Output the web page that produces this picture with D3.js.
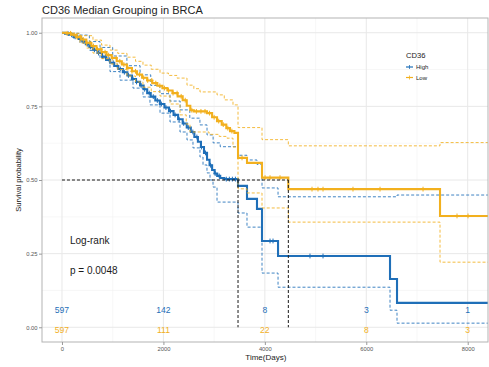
<!DOCTYPE html>
<html>
<head>
<meta charset="utf-8">
<script src="https://cdn.jsdelivr.net/npm/d3@7"></script>
<style>
  html, body { margin: 0; padding: 0; background: #ffffff; }
  svg { display: block; font-family: "Liberation Sans", Arial, Helvetica, sans-serif; }
</style>
</head>
<body>
<svg id="chart" width="489" height="367"></svg>
<script>
// ---- Kaplan-Meier estimates: [time (days), survival] step points ----
const highSurv = [
  [0,1.000],[60,0.997],[140,0.993],[230,0.986],[330,0.979],[400,0.970],[470,0.961],[540,0.952],
  [610,0.942],[700,0.931],[790,0.919],[870,0.908],[950,0.898],[1030,0.887],[1110,0.877],[1200,0.866],
  [1290,0.855],[1380,0.843],[1460,0.833],[1540,0.821],[1610,0.808],[1680,0.795],[1750,0.783],[1840,0.770],
  [1930,0.758],[2020,0.746],[2110,0.734],[2200,0.721],[2290,0.706],[2380,0.692],[2460,0.678],[2540,0.663],
  [2610,0.646],[2680,0.630],[2740,0.612],[2800,0.592],[2860,0.569],[2910,0.550],[2960,0.534],[3010,0.522],
  [3060,0.514],[3120,0.507],[3200,0.503],[3471,0.480],[3648,0.436],[3845,0.402],[3944,0.293],[4260,0.242],
  [6468,0.164],[6606,0.083]
];
const highUpper = [
  [0,1.000],[140,0.998],[330,0.992],[540,0.970],[750,0.950],[1000,0.921],[1280,0.888],[1540,0.857],
  [1750,0.821],[1930,0.793],[2130,0.768],[2330,0.738],[2520,0.710],[2720,0.687],[2860,0.653],[2980,0.626],
  [3120,0.613],[3471,0.584],[3648,0.568],[3845,0.553],[3944,0.473],[4260,0.443],[6606,0.449]
];
const highLower = [
  [0,1.000],[100,0.996],[220,0.982],[355,0.966],[550,0.940],[749,0.914],[947,0.868],[1144,0.839],
  [1400,0.812],[1597,0.782],[1735,0.755],[1933,0.727],[2130,0.697],[2327,0.663],[2465,0.636],[2583,0.609],
  [2721,0.578],[2781,0.551],[2859,0.524],[2919,0.500],[2978,0.476],[3057,0.425],[3471,0.388],[3648,0.340],
  [3944,0.184],[4260,0.136],[6468,0.058],[6606,0.014]
];
const lowSurv = [
  [0,1.000],[80,0.998],[180,0.993],[280,0.985],[380,0.977],[480,0.966],[580,0.955],[680,0.944],
  [780,0.934],[880,0.924],[980,0.914],[1080,0.903],[1180,0.892],[1280,0.880],[1380,0.869],[1480,0.858],
  [1580,0.847],[1680,0.838],[1780,0.829],[1880,0.820],[1980,0.812],[2080,0.804],[2180,0.795],[2280,0.784],
  [2380,0.771],[2460,0.752],[2530,0.737],[2600,0.733],[2860,0.727],[2960,0.713],[3057,0.700],[3150,0.688],
  [3240,0.676],[3313,0.666],[3400,0.660],[3471,0.575],[3648,0.558],[3944,0.508],[4463,0.469],[7454,0.378]
];
const lowUpper = [
  [0,1.000],[150,0.998],[350,0.990],[611,0.975],[780,0.958],[947,0.941],[1100,0.930],[1282,0.917],
  [1450,0.903],[1597,0.890],[1760,0.876],[1933,0.863],[2100,0.855],[2268,0.846],[2465,0.822],[2600,0.810],
  [2721,0.799],[3057,0.789],[3200,0.772],[3372,0.755],[3471,0.678],[3944,0.637],[4463,0.616],[7454,0.627]
];
const lowLower = [
  [0,1.000],[120,0.993],[355,0.965],[480,0.948],[611,0.931],[780,0.912],[947,0.894],[1100,0.875],
  [1282,0.853],[1450,0.833],[1597,0.815],[1760,0.800],[1933,0.785],[2130,0.758],[2327,0.721],[2450,0.690],
  [2524,0.663],[2900,0.655],[3100,0.648],[3254,0.642],[3372,0.612],[3471,0.470],[3648,0.456],[3944,0.405],
  [4463,0.357],[7454,0.221]
];

// ---- censoring times (days) ----
const highCensor = [120,190,260,310,370,430,500,560,640,720,800,860,930,1010,1090,1150,1230,1310,1400,
  1470,1560,1630,1720,1800,1880,1960,2050,2140,2230,2310,2400,2490,2580,2660,2750,2830,2930,3020,3100,
  3240,3300,3360,3420,4102,4161,4890,5147];
const lowCensor = [100,170,240,300,360,420,490,550,620,700,770,850,920,1000,1070,1140,1220,1300,1380,
  1450,1530,1610,1690,1770,1850,1930,2020,2100,2190,2270,2350,2430,2560,2650,2740,2820,2910,3000,3090,
  3180,3270,3350,3550,4004,4102,4299,4930,5048,5147,5738,6271,7119,7789,8006];

// ---- median survival times ----
const medianTimes = [3471, 4463];
const medianLevel = 0.5;

// ---- numbers at risk ----
const riskTimes = [0, 2000, 4000, 6000, 8000];
const highRisk = [597, 142, 8, 3, 1];
const lowRisk = [597, 111, 22, 8, 3];

// ---- axes ----
const xTicks = [0, 2000, 4000, 6000, 8000];
const yTicks = [0, 0.25, 0.5, 0.75, 1];
const yTickLabels = ["0.00", "0.25", "0.50", "0.75", "1.00"];
const groupNames = ["High", "Low"];

const colors = { High: "#1f6fb8", Low: "#f2b01e" };

const svg = d3.select("#chart");
const panel = { left: 42, right: 488, top: 18, bottom: 342 };

const x = d3.scaleLinear().domain([-394, 8400]).range([panel.left, panel.right]);
const y = d3.scaleLinear().domain([-0.05, 1.05]).range([panel.bottom, panel.top]);

svg.append("rect").attr("width", 489).attr("height", 367).attr("fill", "#ffffff");

svg.append("defs").append("clipPath").attr("id", "panelClip")
  .append("rect")
  .attr("x", panel.left).attr("y", panel.top)
  .attr("width", panel.right - panel.left).attr("height", panel.bottom - panel.top);

// grid
const grid = svg.append("g");
const xMinor = d3.range(1000, 8400, 2000);
const yMinor = [0.125, 0.375, 0.625, 0.875];
grid.selectAll(".xminor").data(xMinor).join("line")
  .attr("x1", d => x(d)).attr("x2", d => x(d)).attr("y1", panel.top).attr("y2", panel.bottom)
  .attr("stroke", "#f2f2f2").attr("stroke-width", 0.6);
grid.selectAll(".yminor").data(yMinor).join("line")
  .attr("x1", panel.left).attr("x2", panel.right).attr("y1", d => y(d)).attr("y2", d => y(d))
  .attr("stroke", "#f2f2f2").attr("stroke-width", 0.6);
grid.selectAll(".xmajor").data(xTicks).join("line")
  .attr("x1", d => x(d)).attr("x2", d => x(d)).attr("y1", panel.top).attr("y2", panel.bottom)
  .attr("stroke", "#e8e8e8").attr("stroke-width", 1);
grid.selectAll(".ymajor").data(yTicks).join("line")
  .attr("x1", panel.left).attr("x2", panel.right).attr("y1", d => y(d)).attr("y2", d => y(d))
  .attr("stroke", "#e8e8e8").attr("stroke-width", 1);

const plot = svg.append("g").attr("clip-path", "url(#panelClip)");

const stepLine = d3.line()
  .x(d => x(d[0])).y(d => y(d[1]))
  .curve(d3.curveStepAfter);

function extend(points) {
  return points.concat([[x.domain()[1], points[points.length - 1][1]]]);
}

function drawGroup(name, surv, upper, lower, censor) {
  const c = colors[name];
  [upper, lower].forEach(ci => {
    plot.append("path").datum(extend(ci))
      .attr("d", stepLine).attr("fill", "none")
      .attr("stroke", c).attr("stroke-width", 1)
      .attr("stroke-dasharray", "3,2").attr("opacity", 0.85);
  });
  plot.append("path").datum(extend(surv))
    .attr("d", stepLine).attr("fill", "none")
    .attr("stroke", c).attr("stroke-width", 2.1);
  // censor marks
  const valueAt = t => {
    let v = surv[0][1];
    for (const p of surv) { if (p[0] <= t) v = p[1]; else break; }
    return v;
  };
  const g = plot.append("g");
  censor.forEach(t => {
    const cx = x(t), cy = y(valueAt(t));
    g.append("line").attr("x1", cx).attr("x2", cx).attr("y1", cy - 2.4).attr("y2", cy + 2.4)
      .attr("stroke", c).attr("stroke-width", 1);
    g.append("line").attr("x1", cx - 1.6).attr("x2", cx + 1.6).attr("y1", cy).attr("y2", cy)
      .attr("stroke", c).attr("stroke-width", 1.2);
  });
}

drawGroup("High", highSurv, highUpper, highLower, highCensor);
drawGroup("Low", lowSurv, lowUpper, lowLower, lowCensor);

// median reference lines
const med = plot.append("g").attr("stroke", "#1a1a1a").attr("stroke-width", 1)
  .attr("stroke-dasharray", "3,2").attr("fill", "none");
med.append("line")
  .attr("x1", x(0)).attr("x2", x(d3.max(medianTimes)))
  .attr("y1", y(medianLevel)).attr("y2", y(medianLevel));
medianTimes.forEach(t => {
  med.append("line").attr("x1", x(t)).attr("x2", x(t))
    .attr("y1", y(medianLevel)).attr("y2", y(0));
});

// numbers at risk
const riskG = svg.append("g").attr("font-size", 8.6).attr("text-anchor", "middle");
riskTimes.forEach((t, i) => {
  riskG.append("text").attr("x", x(t)).attr("y", y(0.058)).attr("dy", "0.35em")
    .attr("fill", colors.High).text(highRisk[i]);
  riskG.append("text").attr("x", x(t)).attr("y", y(-0.008)).attr("dy", "0.35em")
    .attr("fill", colors.Low).text(lowRisk[i]);
});

// log-rank annotation
svg.append("text").attr("x", 70).attr("y", y(0.293)).attr("dy", "0.35em")
  .attr("font-size", 10).attr("fill", "#1a1a1a").text("Log-rank");
svg.append("text").attr("x", 70).attr("y", y(0.194)).attr("dy", "0.35em")
  .attr("font-size", 10).attr("fill", "#1a1a1a").text("p = 0.0048");

// panel border
svg.append("rect")
  .attr("x", panel.left).attr("y", panel.top)
  .attr("width", panel.right - panel.left).attr("height", panel.bottom - panel.top)
  .attr("fill", "none").attr("stroke", "#b3b3b3").attr("stroke-width", 1);

// axes
const yAxis = svg.append("g").attr("transform", `translate(${panel.left},0)`)
  .call(d3.axisLeft(y).tickValues(yTicks).tickFormat((d, i) => yTickLabels[i]).tickSize(3).tickPadding(1.5));
const xAxis = svg.append("g").attr("transform", `translate(0,${panel.bottom})`)
  .call(d3.axisBottom(x).tickValues(xTicks).tickFormat(d3.format("d")).tickSize(3).tickPadding(1.5));
[xAxis, yAxis].forEach(a => {
  a.select(".domain").remove();
  a.selectAll(".tick line").attr("stroke", "#999999");
  a.selectAll(".tick text").attr("fill", "#555555").attr("font-size", 5.8)
    .attr("font-family", "Liberation Sans, Arial, sans-serif");
});

// axis titles
svg.append("text").attr("x", (x(0) + x(8000)) / 2 + 1).attr("y", 357).attr("dy", "0.35em")
  .attr("text-anchor", "middle").attr("font-size", 8).attr("fill", "#1a1a1a").text("Time(Days)");
svg.append("text").attr("transform", `translate(18,${(panel.top + panel.bottom) / 2}) rotate(-90)`)
  .attr("dy", "0.35em").attr("text-anchor", "middle").attr("font-size", 7.6).attr("fill", "#1a1a1a")
  .text("Survival probability");

// title
svg.append("text").attr("x", 42).attr("y", 10).attr("dy", "0.35em")
  .attr("font-size", 11).attr("fill", "#222222").text("CD36 Median Grouping in BRCA");

// legend
const legend = svg.append("g").attr("transform", "translate(406,0)");
legend.append("text").attr("x", 0).attr("y", 55).attr("dy", "0.35em")
  .attr("font-size", 7.6).attr("fill", "#1a1a1a").text("CD36");
groupNames.forEach((name, i) => {
  const ly = 67 + i * 10.5;
  legend.append("line").attr("x1", 0).attr("x2", 7).attr("y1", ly).attr("y2", ly)
    .attr("stroke", colors[name]).attr("stroke-width", 1.2);
  legend.append("line").attr("x1", 3.5).attr("x2", 3.5).attr("y1", ly - 2).attr("y2", ly + 2)
    .attr("stroke", colors[name]).attr("stroke-width", 0.8);
  legend.append("text").attr("x", 10).attr("y", ly).attr("dy", "0.35em")
    .attr("font-size", 6).attr("fill", "#1a1a1a").text(name);
});
</script>
</body>
</html>
